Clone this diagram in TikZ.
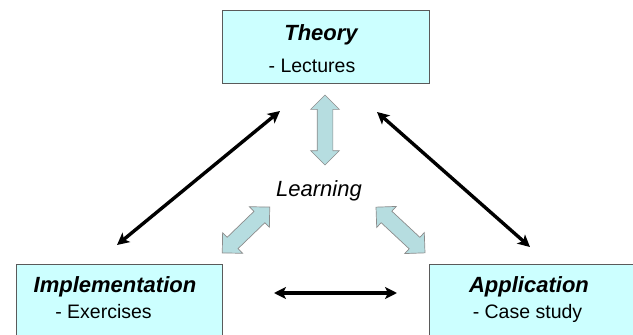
\documentclass[tikz,border=0pt]{standalone}
\usepackage{fontspec}
\setmainfont{Liberation Sans}
\usepackage{tikz}
\usetikzlibrary{shapes.arrows,arrows.meta,positioning,calc,backgrounds}
\definecolor{boxfill}{HTML}{CCFFFF}
\definecolor{blockfill}{HTML}{B6DDE0}
\definecolor{boxline}{HTML}{5A5A5A}
\tikzstyle{area}=[
  draw=boxline, fill=boxfill, line width=0.9pt, inner sep=0pt
]
\tikzstyle{boxtitle}=[
  font=\fontsize{22}{24}\selectfont\bfseries\itshape, anchor=base, inner sep=0pt
]
\tikzstyle{boxitem}=[
  font=\fontsize{19.5}{22}\selectfont, anchor=base, inner sep=0pt
]
\tikzstyle{blockarrow}=[
  double arrow, draw=gray!90, fill=blockfill, line width=0.7pt,
  inner sep=7.5pt, double arrow head extend=6.5pt, double arrow tip angle=90
]
\tikzset{
  link/.style={{Stealth[length=12pt,width=12pt,inset=3pt]}-{Stealth[length=12pt,width=12pt,inset=3pt]}, line width=3.4pt},
}

\begin{document}
\begin{tikzpicture}[x=1pt, y=1pt]
  \useasboundingbox (0,0) rectangle (633,-335);
  % boxes
  \node (theory) at (325.5,-46.5) [area, minimum width=207pt, minimum height=73pt] {};
  \node (impl) at (119,-302) [area, minimum width=206pt, minimum height=76pt] {};
  \node (app) at (537,-302) [area, minimum width=216pt, minimum height=76pt] {};
  % texts
  \node (theorytitle) at (321,-40) [boxtitle] {Theory};
  \node (theoryitem) at (312,-72) [boxitem] {- Lectures};
  \node (impltitle) at (115,-292) [boxtitle] {Implementation};
  \node (implitem) at (103.5,-318) [boxitem] {- Exercises};
  \node (apptitle) at (529,-292) [boxtitle] {Application};
  \node (appitem) at (527.5,-318) [boxitem] {- Case study};
  \node (learning) at (319,-196) [boxtitle, font=\fontsize{22}{24}\selectfont\itshape] {Learning};
  % block arrows round the centre
  \node (learnup) at (325,-130) [blockarrow, rotate=90, minimum height=70pt] {};
  \node (learnleft) at (246,-230) [blockarrow, rotate=44, minimum height=66pt] {};
  \node (learnright) at (400.5,-230) [blockarrow, rotate=-43, minimum height=67pt] {};
  % black links
  \coordinate (tl) at (280,-111);
  \coordinate (il) at (117,-245);
  \coordinate (tr) at (377,-112);
  \coordinate (ar) at (530,-247);
  \coordinate (ih) at (274,-293);
  \coordinate (ah) at (397,-293);
  \draw [link] (il) -- (tl);
  \draw [link] (tr) -- (ar);
  \draw [link] (ih) -- (ah);
\end{tikzpicture}
\end{document}
